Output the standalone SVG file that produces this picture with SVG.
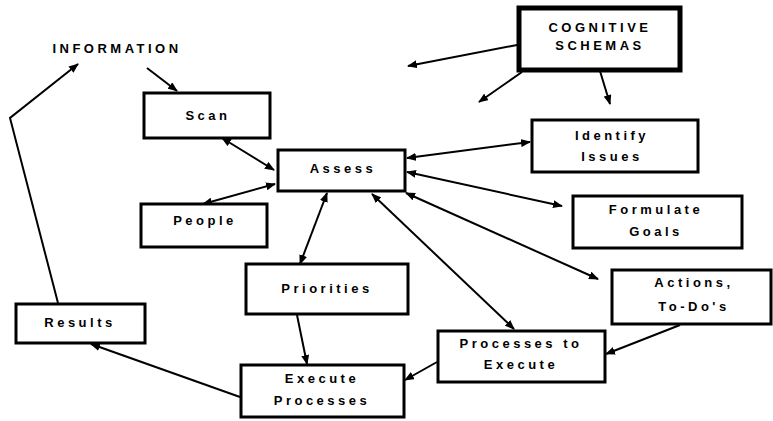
<svg xmlns="http://www.w3.org/2000/svg" width="773" height="421" viewBox="0 0 773 421">
<style>
.box{fill:#fff;stroke:#000;stroke-width:3}
.thick{stroke-width:5}
.t{font-family:"Liberation Sans",Arial,sans-serif;font-weight:bold;font-size:13px;letter-spacing:3.5px;fill:#000;text-anchor:middle}
.c{fill:none;stroke:#000;stroke-width:2}
</style>
<defs>
<marker id="ah" viewBox="0 0 10 8" refX="9" refY="4" markerWidth="10" markerHeight="8" markerUnits="userSpaceOnUse" orient="auto-start-reverse">
<path d="M0,0 L10,4 L0,8 Z" fill="#000"/>
</marker>
</defs>
<rect width="773" height="421" fill="#fff"/>
<g id="connectors">
<path class="c" d="M147,68 L177,91" marker-end="url(#ah)"/>
<path class="c" d="M58,303 L10,118 L78,64" marker-end="url(#ah)"/>
<path class="c" d="M222,138 L274,170" marker-start="url(#ah)" marker-end="url(#ah)"/>
<path class="c" d="M275,184 L203,204" marker-start="url(#ah)" marker-end="url(#ah)"/>
<path class="c" d="M517,45 L408,66" marker-end="url(#ah)"/>
<path class="c" d="M522,72 L479,102" marker-end="url(#ah)"/>
<path class="c" d="M600,71 L610,104" marker-end="url(#ah)"/>
<path class="c" d="M530,142 L407,158" marker-start="url(#ah)" marker-end="url(#ah)"/>
<path class="c" d="M407,172 L562,206" marker-start="url(#ah)" marker-end="url(#ah)"/>
<path class="c" d="M406,193 L598,279" marker-start="url(#ah)" marker-end="url(#ah)"/>
<path class="c" d="M327,193 L300,264" marker-start="url(#ah)" marker-end="url(#ah)"/>
<path class="c" d="M372,194 L514,329" marker-start="url(#ah)" marker-end="url(#ah)"/>
<path class="c" d="M297,315 L307,364" marker-end="url(#ah)"/>
<path class="c" d="M680,325 L606,354" marker-end="url(#ah)"/>
<path class="c" d="M437,362 L405,380" marker-end="url(#ah)"/>
<path class="c" d="M240,397 L91,344" marker-end="url(#ah)"/>
</g>
<g id="information"><text class="t" x="117" y="53">INFORMATION</text></g>
<g id="cognitive"><rect class="box thick" x="519" y="8" width="161" height="62"/><text class="t" x="600" y="32">COGNITIVE</text><text class="t" x="600" y="50">SCHEMAS</text></g>
<g id="scan"><rect class="box" x="144" y="93" width="126" height="45"/><text class="t" x="208" y="120">Scan</text></g>
<g id="assess"><rect class="box" x="278" y="150" width="127" height="41"/><text class="t" x="343" y="173">Assess</text></g>
<g id="people"><rect class="box" x="141" y="204" width="126" height="43"/><text class="t" x="205" y="225">People</text></g>
<g id="identify"><rect class="box" x="532" y="120" width="166" height="52"/><text class="t" x="612" y="140">Identify</text><text class="t" x="612" y="161">Issues</text></g>
<g id="formulate"><rect class="box" x="573" y="196" width="169" height="52"/><text class="t" x="656" y="214">Formulate</text><text class="t" x="656" y="236">Goals</text></g>
<g id="actions"><rect class="box" x="612" y="270" width="159" height="54"/><text class="t" x="694" y="287">Actions,</text><text class="t" x="694" y="311">To-Do's</text></g>
<g id="priorities"><rect class="box" x="246" y="264" width="162" height="50"/><text class="t" x="327" y="293">Priorities</text></g>
<g id="results"><rect class="box" x="16" y="304" width="129" height="39"/><text class="t" x="80" y="327">Results</text></g>
<g id="execute"><rect class="box" x="241" y="365" width="163" height="52"/><text class="t" x="322" y="383">Execute</text><text class="t" x="322" y="405">Processes</text></g>
<g id="processes"><rect class="box" x="438" y="331" width="167" height="51"/><text class="t" x="521" y="348">Processes to</text><text class="t" x="521" y="369">Execute</text></g>
</svg>
